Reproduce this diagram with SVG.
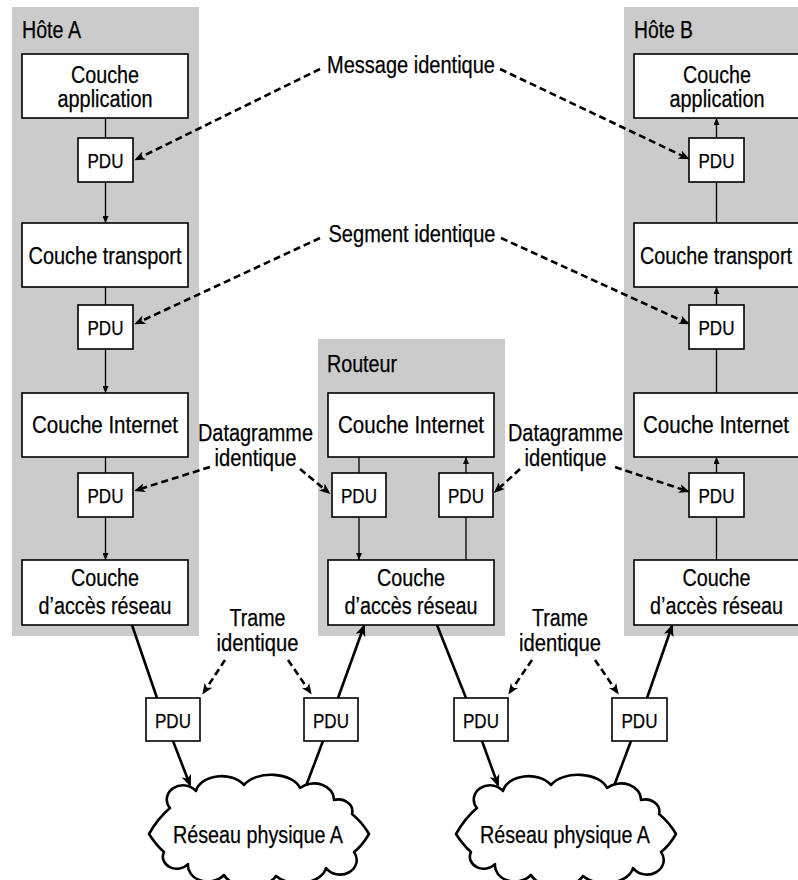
<svg xmlns="http://www.w3.org/2000/svg" width="798" height="880" viewBox="0 0 798 880">
<style>
.panel{fill:#cbcbcb;stroke:none}
.box{fill:#ffffff;stroke:#000;stroke-width:1.6}
.t{font-family:"Liberation Sans",Arial,sans-serif;font-size:23px;fill:#000;stroke:#000;stroke-width:0.25}
.p{font-size:21px}
.c{text-anchor:middle}
.thin{fill:none;stroke:#000;stroke-width:1.3}
.thick{fill:none;stroke:#000;stroke-width:2.6}
.dash{fill:none;stroke:#000;stroke-width:2.6;stroke-dasharray:7 4}
.cloud{fill:#fff;stroke:#000;stroke-width:2.6;stroke-linejoin:round}
</style>
<defs>
<marker id="ah" viewBox="0 0 7 6" markerWidth="7" markerHeight="6" refX="7" refY="3" orient="auto" markerUnits="userSpaceOnUse"><path d="M0,0 L7,3 L0,6 Z" fill="#000"/></marker>
<marker id="ahd" viewBox="0 0 11 9" markerWidth="11" markerHeight="9" refX="8" refY="4.5" orient="auto" markerUnits="userSpaceOnUse"><path d="M0,0 L11,4.5 L0,9 L3,4.5 Z" fill="#000"/></marker>
<marker id="ahk" viewBox="0 0 12 10" markerWidth="12" markerHeight="10" refX="10" refY="5" orient="auto" markerUnits="userSpaceOnUse"><path d="M0,0 L12,5 L0,10 L3,5 Z" fill="#000"/></marker>
<path id="cloudShape" d="M149,834 Q158,818 170,808 A16,14 0 0 1 196,791 A26,18 0 0 1 244,785 A30,18 0 0 1 300,788 A20,16 0 0 1 334,800 A14,12 0 0 1 352,814 Q362,822 369,834 Q362,846 354,852 A16,14 0 0 1 326,868 A28,18 0 0 1 276,876 A28,18 0 0 1 224,875 A20,16 0 0 1 188,864 A14,12 0 0 1 164,852 Q156,845 149,834 Z"/>
</defs>

<g id="hostA">
<rect class="panel" x="12" y="7" width="187" height="629"/>
<text class="t" x="22" y="38" textLength="59" lengthAdjust="spacingAndGlyphs">Hôte A</text>
</g>
<g id="hostB">
<rect class="panel" x="624" y="7" width="187" height="629"/>
<text class="t" x="634" y="38" textLength="59" lengthAdjust="spacingAndGlyphs">Hôte B</text>
</g>
<g id="router">
<rect class="panel" x="318" y="339" width="187" height="297"/>
<text class="t" x="327" y="372" textLength="70" lengthAdjust="spacingAndGlyphs">Routeur</text>
</g>

<g id="connectors">
<!-- host A -->
<path class="thin" d="M105.5,118 V138"/>
<path class="thin" d="M105.5,182 V223" marker-end="url(#ah)"/>
<path class="thin" d="M105.5,287 V305"/>
<path class="thin" d="M105.5,349 V393" marker-end="url(#ah)"/>
<path class="thin" d="M105.5,457 V473"/>
<path class="thin" d="M105.5,517 V560" marker-end="url(#ah)"/>
<!-- host B -->
<path class="thin" d="M716.5,138 V118" marker-end="url(#ah)"/>
<path class="thin" d="M716.5,223 V182"/>
<path class="thin" d="M716.5,305 V287" marker-end="url(#ah)"/>
<path class="thin" d="M716.5,393 V349"/>
<path class="thin" d="M716.5,473 V457" marker-end="url(#ah)"/>
<path class="thin" d="M716.5,560 V517"/>
<!-- router -->
<path class="thin" d="M359,457 V473"/>
<path class="thin" d="M359,517 V560" marker-end="url(#ah)"/>
<path class="thin" d="M466,473 V457" marker-end="url(#ah)"/>
<path class="thin" d="M466,560 V517"/>
<!-- thick links -->
<path class="thick" d="M132,625 L157,698"/>
<path class="thick" d="M173,741 L190,785" marker-end="url(#ahk)"/>
<path class="thick" d="M306,786 L323,741"/>
<path class="thick" d="M338,698 L364,626" marker-end="url(#ahk)"/>
<path class="thick" d="M437,625 L466,698"/>
<path class="thick" d="M482,741 L498,785" marker-end="url(#ahk)"/>
<path class="thick" d="M614,786 L631,741"/>
<path class="thick" d="M647,698 L672,626" marker-end="url(#ahk)"/>
<!-- dashed -->
<path class="dash" d="M320,69 L137,159" marker-end="url(#ahd)"/>
<path class="dash" d="M500,69 L687,158" marker-end="url(#ahd)"/>
<path class="dash" d="M320,238 L137,323" marker-end="url(#ahd)"/>
<path class="dash" d="M501,238 L687,323" marker-end="url(#ahd)"/>
<path class="dash" d="M210,467 L137,490" marker-end="url(#ahd)"/>
<path class="dash" d="M300,469 L328,492" marker-end="url(#ahd)"/>
<path class="dash" d="M520,469 L496,491" marker-end="url(#ahd)"/>
<path class="dash" d="M615,467 L687,491" marker-end="url(#ahd)"/>
<path class="dash" d="M225,660 L204,692" marker-end="url(#ahd)"/>
<path class="dash" d="M288,660 L310,692" marker-end="url(#ahd)"/>
<path class="dash" d="M532,660 L510,692" marker-end="url(#ahd)"/>
<path class="dash" d="M595,660 L617,692" marker-end="url(#ahd)"/>
</g>

<!-- Host A nodes -->
<g id="A-app"><rect class="box" x="22" y="54" width="166" height="64"/><text class="t c" x="105" y="83" textLength="68" lengthAdjust="spacingAndGlyphs">Couche</text><text class="t c" x="105" y="107" textLength="95" lengthAdjust="spacingAndGlyphs">application</text></g>
<g id="A-pdu1"><rect class="box" x="78" y="138" width="55" height="44"/><text class="t p c" x="105.5" y="168" textLength="36" lengthAdjust="spacingAndGlyphs">PDU</text></g>
<g id="A-transport"><rect class="box" x="22" y="223" width="166" height="64"/><text class="t c" x="105" y="264" textLength="153" lengthAdjust="spacingAndGlyphs">Couche transport</text></g>
<g id="A-pdu2"><rect class="box" x="78" y="305" width="55" height="44"/><text class="t p c" x="105.5" y="335" textLength="36" lengthAdjust="spacingAndGlyphs">PDU</text></g>
<g id="A-internet"><rect class="box" x="22" y="393" width="166" height="64"/><text class="t c" x="105" y="433" textLength="146" lengthAdjust="spacingAndGlyphs">Couche Internet</text></g>
<g id="A-pdu3"><rect class="box" x="78" y="473" width="55" height="44"/><text class="t p c" x="105.5" y="503" textLength="36" lengthAdjust="spacingAndGlyphs">PDU</text></g>
<g id="A-access"><rect class="box" x="22" y="560" width="166" height="65"/><text class="t c" x="105" y="586" textLength="68" lengthAdjust="spacingAndGlyphs">Couche</text><text class="t c" x="105" y="614" textLength="133" lengthAdjust="spacingAndGlyphs">d’accès réseau</text></g>

<!-- Host B nodes -->
<g id="B-app"><rect class="box" x="634" y="54" width="166" height="64"/><text class="t c" x="717" y="83" textLength="68" lengthAdjust="spacingAndGlyphs">Couche</text><text class="t c" x="717" y="107" textLength="95" lengthAdjust="spacingAndGlyphs">application</text></g>
<g id="B-pdu1"><rect class="box" x="689" y="138" width="55" height="44"/><text class="t p c" x="716.5" y="168" textLength="36" lengthAdjust="spacingAndGlyphs">PDU</text></g>
<g id="B-transport"><rect class="box" x="634" y="223" width="166" height="64"/><text class="t c" x="716" y="264" textLength="152" lengthAdjust="spacingAndGlyphs">Couche transport</text></g>
<g id="B-pdu2"><rect class="box" x="689" y="305" width="55" height="44"/><text class="t p c" x="716.5" y="335" textLength="36" lengthAdjust="spacingAndGlyphs">PDU</text></g>
<g id="B-internet"><rect class="box" x="634" y="393" width="166" height="64"/><text class="t c" x="716" y="433" textLength="146" lengthAdjust="spacingAndGlyphs">Couche Internet</text></g>
<g id="B-pdu3"><rect class="box" x="689" y="473" width="55" height="44"/><text class="t p c" x="716.5" y="503" textLength="36" lengthAdjust="spacingAndGlyphs">PDU</text></g>
<g id="B-access"><rect class="box" x="634" y="560" width="166" height="65"/><text class="t c" x="716.5" y="586" textLength="68" lengthAdjust="spacingAndGlyphs">Couche</text><text class="t c" x="716.5" y="614" textLength="133" lengthAdjust="spacingAndGlyphs">d’accès réseau</text></g>

<!-- Router nodes -->
<g id="R-internet"><rect class="box" x="328" y="393" width="166" height="64"/><text class="t c" x="411" y="433" textLength="146" lengthAdjust="spacingAndGlyphs">Couche Internet</text></g>
<g id="R-pdu1"><rect class="box" x="332" y="473" width="54" height="44"/><text class="t p c" x="359" y="503" textLength="36" lengthAdjust="spacingAndGlyphs">PDU</text></g>
<g id="R-pdu2"><rect class="box" x="439" y="473" width="54" height="44"/><text class="t p c" x="466" y="503" textLength="36" lengthAdjust="spacingAndGlyphs">PDU</text></g>
<g id="R-access"><rect class="box" x="328" y="560" width="166" height="65"/><text class="t c" x="411" y="586" textLength="68" lengthAdjust="spacingAndGlyphs">Couche</text><text class="t c" x="411" y="614" textLength="133" lengthAdjust="spacingAndGlyphs">d’accès réseau</text></g>

<!-- Link PDUs -->
<g id="L-pdu1"><rect class="box" x="146" y="698" width="54" height="43"/><text class="t p c" x="173" y="728" textLength="36" lengthAdjust="spacingAndGlyphs">PDU</text></g>
<g id="L-pdu2"><rect class="box" x="304" y="698" width="54" height="43"/><text class="t p c" x="331" y="728" textLength="36" lengthAdjust="spacingAndGlyphs">PDU</text></g>
<g id="L-pdu3"><rect class="box" x="454" y="698" width="54" height="43"/><text class="t p c" x="481" y="728" textLength="36" lengthAdjust="spacingAndGlyphs">PDU</text></g>
<g id="L-pdu4"><rect class="box" x="612" y="698" width="55" height="43"/><text class="t p c" x="639.5" y="728" textLength="36" lengthAdjust="spacingAndGlyphs">PDU</text></g>

<!-- Clouds -->
<g id="net1"><use href="#cloudShape" class="cloud"/><text class="t c" x="258" y="843" textLength="170" lengthAdjust="spacingAndGlyphs">Réseau physique A</text></g>
<g id="net2"><use href="#cloudShape" class="cloud" transform="translate(307,0)"/><text class="t c" x="565" y="843" textLength="170" lengthAdjust="spacingAndGlyphs">Réseau physique A</text></g>

<!-- Labels -->
<g id="lbl-message"><text class="t c" x="411" y="73" textLength="168" lengthAdjust="spacingAndGlyphs">Message identique</text></g>
<g id="lbl-segment"><text class="t c" x="412" y="242" textLength="167" lengthAdjust="spacingAndGlyphs">Segment identique</text></g>
<g id="lbl-dg1"><text class="t c" x="255.5" y="441" textLength="115" lengthAdjust="spacingAndGlyphs">Datagramme</text><text class="t c" x="255.5" y="466" textLength="82" lengthAdjust="spacingAndGlyphs">identique</text></g>
<g id="lbl-dg2"><text class="t c" x="565.5" y="441" textLength="115" lengthAdjust="spacingAndGlyphs">Datagramme</text><text class="t c" x="565.5" y="466" textLength="82" lengthAdjust="spacingAndGlyphs">identique</text></g>
<g id="lbl-tr1"><text class="t c" x="257.5" y="626" textLength="56" lengthAdjust="spacingAndGlyphs">Trame</text><text class="t c" x="257.5" y="651" textLength="82" lengthAdjust="spacingAndGlyphs">identique</text></g>
<g id="lbl-tr2"><text class="t c" x="560" y="626" textLength="56" lengthAdjust="spacingAndGlyphs">Trame</text><text class="t c" x="560" y="651" textLength="82" lengthAdjust="spacingAndGlyphs">identique</text></g>
</svg>
